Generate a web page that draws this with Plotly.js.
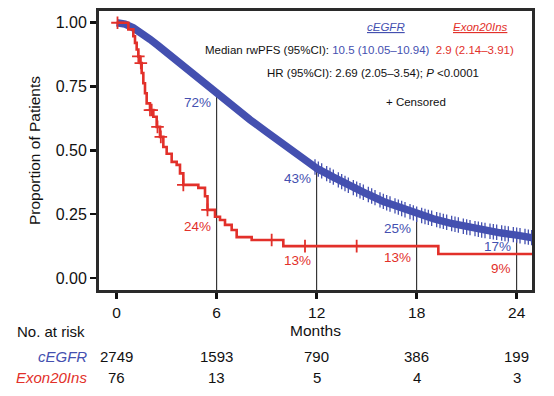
<!DOCTYPE html>
<html><head><meta charset="utf-8">
<script src="https://cdn.plot.ly/plotly-3.0.1.min.js"></script>
<style>html,body{margin:0;padding:0;background:#fff}#chart{width:554px;height:396px}</style>
</head><body><div id="chart"></div>
<script>
// ---- data ----
const cegfrMonths = [0, 0.5, 1, 1.5, 2, 2.5, 3, 3.5, 4, 4.5, 5, 5.5, 6, 7, 8, 9, 10, 11, 12, 13, 14, 15, 16, 17, 18, 19, 20, 21, 22, 23, 24, 25];
const cegfrSurv   = [1.0, 0.995, 0.98, 0.96, 0.935, 0.91, 0.883, 0.857, 0.83, 0.802, 0.775, 0.748, 0.72, 0.67, 0.62, 0.572, 0.525, 0.478, 0.43, 0.395, 0.36, 0.33, 0.30, 0.275, 0.25, 0.232, 0.215, 0.2, 0.187, 0.177, 0.168, 0.157];
const cegfrCensorMonths = [11.9, 12.1, 12.3, 12.6, 12.8, 13.0, 13.3, 13.5, 13.7, 13.9, 14.2, 14.4, 14.6, 14.8, 15.1, 15.3, 15.5, 15.8, 16.0, 16.2, 16.4, 16.7, 16.9, 17.1, 17.3, 17.6, 17.8, 18.0, 18.3, 18.5, 18.7, 18.9, 19.2, 19.4, 19.6, 19.8, 20.1, 20.3, 20.5, 20.8, 21.0, 21.2, 21.5, 21.7, 21.9, 22.1, 22.4, 22.6, 22.8, 23.1, 23.3, 23.5, 23.8, 24.0, 24.2, 24.5, 24.7, 24.9];

const exonMonths = [0, 0.7, 1.0, 1.1, 1.2, 1.3, 1.4, 1.5, 1.6, 1.7, 1.8, 2.0, 2.2, 2.4, 2.6, 2.8, 3.0, 3.3, 3.6, 3.8, 4.0, 4.9, 5.3, 5.45, 5.9, 6.2, 6.5, 6.9, 7.2, 8.1, 10.0, 19.3, 25.05];
const exonSurv   = [1.0, 0.974, 0.947, 0.921, 0.895, 0.868, 0.842, 0.803, 0.763, 0.724, 0.684, 0.658, 0.632, 0.592, 0.553, 0.513, 0.487, 0.455, 0.443, 0.41, 0.365, 0.353, 0.32, 0.267, 0.24, 0.227, 0.208, 0.188, 0.16, 0.149, 0.125, 0.094, 0.094];
const exonCensorMonths = [0.05, 1.3, 1.45, 2.0, 2.1, 2.45, 2.65, 4.0, 5.45, 9.3, 11.3, 14.4];

const tickMonths = [0, 6, 12, 18, 24];
const riskCegfr = [2749, 1593, 790, 386, 199];
const riskExon  = [76, 13, 5, 4, 3];

const landmarkMonths = [6, 12, 18, 24];
const landmarkCegfr = [72, 43, 25, 17];
const landmarkExon  = [24, 13, 13, 9];

const groupNames = ['cEGFR', 'Exon20Ins'];
const medianCegfr = '10.5 (10.05–10.94)';
const medianExon  = '2.9 (2.14–3.91)';
const hrText = '2.69 (2.05–3.54)';
const pText = '<0.0001';

// ---- styling ----
const BLUE = '#4450b0';
const RED = '#e2302a';
const FONT = '"Liberation Sans", Arial, Helvetica, sans-serif';
const L = 99, R = 532, T = 11, B = 290, W = 554, H = 396;
const px = p => (p - L) / (R - L);
const py = p => (B - p) / (B - T);

function stepAt(ts, vs, t) { let v = vs[0]; for (let i = 0; i < ts.length; i++) if (ts[i] <= t) v = vs[i]; return v; }
function onLine(ts, vs, t) {
  for (let i = 1; i < ts.length; i++) {
    if (t <= ts[i]) { const f = (t - ts[i-1]) / (ts[i] - ts[i-1]); return vs[i-1] + f * (vs[i] - vs[i-1]); }
  }
  return vs[vs.length - 1];
}

const traces = [
  { x: cegfrMonths, y: cegfrSurv, mode: 'lines', line: { color: BLUE, width: 7.5 }, hoverinfo: 'skip' },
  { x: cegfrCensorMonths, y: cegfrCensorMonths.map(t => onLine(cegfrMonths, cegfrSurv, t)), mode: 'markers',
    marker: { symbol: 'line-ns', size: 11, line: { color: BLUE, width: 1.3 } }, hoverinfo: 'skip' },
  { x: exonMonths, y: exonSurv, mode: 'lines', line: { color: RED, width: 2.6, shape: 'hv' }, hoverinfo: 'skip' },
  { x: exonCensorMonths, y: exonCensorMonths.map(t => stepAt(exonMonths, exonSurv, t)), mode: 'markers',
    marker: { symbol: 'cross-thin', size: 9, line: { color: RED, width: 1.8 } }, hoverinfo: 'skip' }
];

const shapes = landmarkMonths.map((m, i) => ({
  type: 'line', xref: 'x', yref: 'y', x0: m, x1: m, y0: -0.06, y1: landmarkCegfr[i] / 100,
  line: { color: '#111', width: 1 }, layer: 'below'
}));

const ann = [];
const blueShift = [-8, -10, -14, -12];
const redShift = [-10, -16, -13, -13];
landmarkMonths.forEach((m, i) => {
  ann.push({ x: m, y: landmarkCegfr[i] / 100, xref: 'x', yref: 'y', text: landmarkCegfr[i] + '%', showarrow: false,
    xanchor: 'right', yanchor: 'middle', xshift: -4, yshift: blueShift[i], font: { family: FONT, size: 13.5, color: BLUE } });
  ann.push({ x: m, y: landmarkExon[i] / 100, xref: 'x', yref: 'y', text: landmarkExon[i] + '%', showarrow: false,
    xanchor: 'right', yanchor: 'middle', xshift: -4, yshift: redShift[i], font: { family: FONT, size: 13.5, color: RED } });
});

// header block
ann.push({ xref: 'paper', yref: 'paper', x: px(386), y: py(27), text: '<u><i>' + groupNames[0] + '</i></u>', showarrow: false,
  xanchor: 'center', yanchor: 'middle', font: { family: FONT, size: 11.5, color: BLUE } });
ann.push({ xref: 'paper', yref: 'paper', x: px(480), y: py(27), text: '<u><i>' + groupNames[1] + '</i></u>', showarrow: false,
  xanchor: 'center', yanchor: 'middle', font: { family: FONT, size: 11.5, color: RED } });
ann.push({ xref: 'paper', yref: 'paper', x: px(203), y: py(50), showarrow: false, xanchor: 'left', yanchor: 'middle',
  text: 'Median rwPFS (95%CI): <span style="color:' + BLUE + '">' + medianCegfr + '</span>  <span style="color:' + RED + '">' + medianExon + '</span>',
  font: { family: FONT, size: 11.5, color: '#111' } });
ann.push({ xref: 'paper', yref: 'paper', x: px(373), y: py(73), showarrow: false, xanchor: 'center', yanchor: 'middle',
  text: 'HR (95%CI): ' + hrText + '; <i>P</i> ' + pText.replace('<', '&lt;'),
  font: { family: FONT, size: 11.5, color: '#111' } });
ann.push({ xref: 'paper', yref: 'paper', x: px(416), y: py(102), showarrow: false, xanchor: 'center', yanchor: 'middle',
  text: '+ Censored', font: { family: FONT, size: 11.5, color: '#111' } });

// risk table
ann.push({ xref: 'paper', yref: 'paper', x: px(51), y: py(331), showarrow: false, xanchor: 'center', yanchor: 'middle',
  text: 'No. at risk', font: { family: FONT, size: 15, color: '#111' } });
ann.push({ xref: 'paper', yref: 'paper', x: px(89), y: py(356), showarrow: false, xanchor: 'right', yanchor: 'middle',
  text: '<i>' + groupNames[0] + '</i>', font: { family: FONT, size: 15, color: BLUE } });
ann.push({ xref: 'paper', yref: 'paper', x: px(89), y: py(378), showarrow: false, xanchor: 'right', yanchor: 'middle',
  text: '<i>' + groupNames[1] + '</i>', font: { family: FONT, size: 15, color: RED } });
tickMonths.forEach((m, i) => {
  ann.push({ xref: 'x', yref: 'paper', x: m, y: py(356), showarrow: false, xanchor: 'center', yanchor: 'middle',
    text: String(riskCegfr[i]), font: { family: FONT, size: 15, color: '#111' } });
  ann.push({ xref: 'x', yref: 'paper', x: m, y: py(378), showarrow: false, xanchor: 'center', yanchor: 'middle',
    text: String(riskExon[i]), font: { family: FONT, size: 15, color: '#111' } });
});

const layout = {
  width: W, height: H,
  margin: { l: L, r: W - R, t: T, b: H - B, pad: 0 },
  paper_bgcolor: '#fff', plot_bgcolor: '#fff',
  showlegend: false,
  font: { family: FONT, color: '#111' },
  xaxis: {
    range: [-1.06, 24.92], tickvals: tickMonths, ticktext: tickMonths.map(String),
    showgrid: false, zeroline: false, showline: true, mirror: true, linecolor: '#2a2a2a', linewidth: 3,
    ticks: 'outside', ticklen: 6, tickwidth: 2.5, tickcolor: '#111',
    tickfont: { family: FONT, size: 15.5, color: '#111' },
    title: { text: 'Months', font: { family: FONT, size: 15.5, color: '#111' }, standoff: 6 }
  },
  yaxis: {
    range: [-0.047, 1.046], tickvals: [0, 0.25, 0.5, 0.75, 1], ticktext: ['0.00', '0.25', '0.50', '0.75', '1.00'],
    showgrid: false, zeroline: false, showline: true, mirror: true, linecolor: '#2a2a2a', linewidth: 3,
    ticks: 'outside', ticklen: 6, tickwidth: 2.5, tickcolor: '#111',
    tickfont: { family: FONT, size: 16, color: '#111' },
    title: { text: 'Proportion of Patients', font: { family: FONT, size: 15.5, color: '#111' }, standoff: 12 }
  },
  shapes: shapes,
  annotations: ann
};

Plotly.newPlot('chart', traces, layout, { staticPlot: true, displayModeBar: false });
</script>
</body></html>
